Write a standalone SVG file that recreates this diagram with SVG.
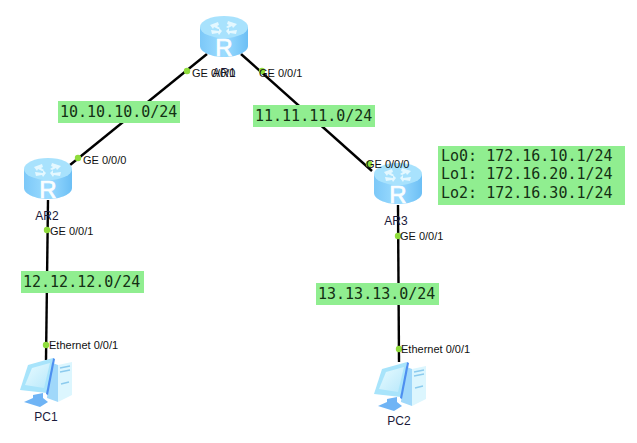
<svg xmlns="http://www.w3.org/2000/svg" width="637" height="443" viewBox="0 0 637 443">
<style>
text{font-family:"Liberation Sans",Arial,sans-serif;font-size:11px;fill:#111}
.m{font-family:"DejaVu Sans Mono","Liberation Mono",monospace;font-size:15px;fill:#143014}
.n{font-size:12px;text-anchor:middle;fill:#1a1a3a}
.l{fill:#90ee90}
.c line{stroke:#000;stroke-width:2.4}
.d{fill:#8fdc3c}
</style>
<defs>
<linearGradient id="rb" x1="0" x2="1" y1="0" y2="0">
<stop offset="0" stop-color="#7cc8f8"/><stop offset=".5" stop-color="#9cdcff"/><stop offset="1" stop-color="#6cbff5"/>
</linearGradient>
<linearGradient id="scr" x1="0" x2="1" y1="0" y2="1">
<stop offset="0" stop-color="#e8fbff"/><stop offset="1" stop-color="#b8e8fb"/>
</linearGradient>
<g id="router">
<path d="M0 11V30C0 36 11 41 24 41S48 36 48 30V11Z" fill="url(#rb)"/>
<ellipse cx="24" cy="11" rx="24" ry="11" fill="#a8e2fd"/>
<path d="M10 9l8-3 1 3-2 1 3 2-2 1-4-2-1 2ZM37 8l-9-3-1 3 2 1-3 2 2 1 4-2 1 2ZM11 14l8 1 0-3 3 3-3 4-1-2-6 1ZM37 14l-8 1 0-3-3 3 3 4 1-2 6 1Z" fill="#e4f8ff"/>
<text x="24" y="40" style="font-size:24px;font-family:'Liberation Sans',sans-serif;fill:#fbfeff;stroke:#fbfeff;stroke-width:.7;text-anchor:middle">R</text>
</g>
<g id="pc">
<path d="M31 4L39 7V44L28 40Z" fill="#a0d8fa"/>
<path d="M39 7L53 4V37L39 44Z" fill="#dcf6fe"/>
<path d="M41 10l10-2M41 14l10-2M42 26l8-2" stroke="#8ccbee" stroke-width="1.3"/>
<path d="M9 7L34 0 28 35 1 32Z" fill="#a8e4fb"/>
<path d="M13 10L31 5 25 30 6 27Z" fill="url(#scr)"/>
<path d="M34 0L36 1 29 37 27 36Z" fill="#4d8ff0"/>
<path d="M14 37L24 35V40L29 44 21 49 5 44 14 40Z" fill="#6fb4f5"/>
</g>
</defs>
<rect width="637" height="443" fill="#fff"/>
<g id="connectors" class="c">
<line x1="207" y1="54" x2="70" y2="165"/>
<line x1="241" y1="54" x2="372" y2="171"/>
<line x1="48" y1="200" x2="46" y2="360"/>
<line x1="398" y1="205" x2="399" y2="362"/>
<g class="d">
<circle cx="187" cy="71" r="3.2"/><circle cx="262" cy="71" r="3.2"/>
<circle cx="78" cy="158" r="3.2"/><circle cx="369" cy="164" r="3.2"/>
<circle cx="47" cy="230" r="3.2"/><circle cx="46" cy="345" r="3.2"/>
<circle cx="398" cy="236" r="3.2"/><circle cx="399" cy="349" r="3.2"/>
</g>
</g>
<g id="AR1"><use href="#router" x="200" y="16"/><text class="n" x="224" y="77">AR1</text></g>
<g id="AR2"><use href="#router" x="24" y="158"/><text class="n" x="47" y="220">AR2</text></g>
<g id="AR3"><use href="#router" x="374" y="163"/><text class="n" x="396" y="225">AR3</text></g>
<g id="PC1"><use href="#pc" x="19" y="358"/><text class="n" x="46" y="421">PC1</text></g>
<g id="PC2"><use href="#pc" x="373" y="362"/><text class="n" x="399" y="425">PC2</text></g>
<g id="port-labels">
<text x="192" y="77">GE 0/0/0</text>
<text x="259" y="77">GE 0/0/1</text>
<text x="83" y="164">GE 0/0/0</text>
<text x="366" y="168">GE 0/0/0</text>
<text x="50" y="235">GE 0/0/1</text>
<text x="400" y="240">GE 0/0/1</text>
<text x="49" y="349">Ethernet 0/0/1</text>
<text x="401" y="353">Ethernet 0/0/1</text>
</g>
<g id="subnet-10"><rect class="l" x="58" y="101" width="122" height="22"/><text class="m" x="60" y="117">10.10.10.0/24</text></g>
<g id="subnet-11"><rect class="l" x="253" y="105" width="122" height="22"/><text class="m" x="255" y="121">11.11.11.0/24</text></g>
<g id="subnet-12"><rect class="l" x="21" y="271" width="123" height="22"/><text class="m" x="23" y="287">12.12.12.0/24</text></g>
<g id="subnet-13"><rect class="l" x="316" y="283" width="123" height="22"/><text class="m" x="318" y="299">13.13.13.0/24</text></g>
<g id="loopbacks"><rect class="l" x="438" y="146" width="187" height="59"/>
<text class="m" x="441" y="161">Lo0: 172.16.10.1/24</text>
<text class="m" x="441" y="179">Lo1: 172.16.20.1/24</text>
<text class="m" x="441" y="198">Lo2: 172.16.30.1/24</text></g>
</svg>
